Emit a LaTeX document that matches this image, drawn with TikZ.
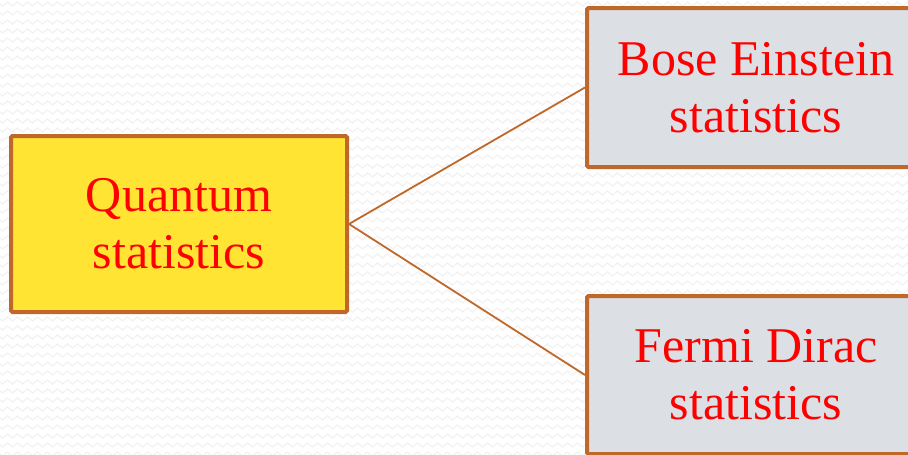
\documentclass[tikz,border=0pt]{standalone}
\usepackage{fontspec}
\setmainfont{Liberation Serif}
\usetikzlibrary{decorations.pathmorphing}
\definecolor{brd}{RGB}{192,103,42}
\definecolor{yel}{RGB}{255,228,51}
\definecolor{gry}{RGB}{220,223,228}
\definecolor{bgz}{RGB}{242,242,242}
\begin{document}
\begin{tikzpicture}[x=1pt,y=1pt,
  boxst/.style={draw=brd, line width=4pt, rounded corners=1.5pt, inner sep=0pt,
    align=center, text=red, font=\fontsize{50}{57}\selectfont},
  conn/.style={draw=brd, line width=1.8pt},
  bgzz/.style={draw=bgz, line width=1.2pt, decorate, decoration={zigzag, segment length=10pt, amplitude=2pt}}]
\useasboundingbox (0,0) rectangle (908,-455);
\fill[white] (0,0) rectangle (908,-455);
\begin{scope}
\clip (0,0) rectangle (908,-455);
\foreach \yy in {4,13,...,460} \draw[bgzz] (-5,-\yy) -- (915,-\yy);
\node[boxst, fill=yel, minimum width=336pt, minimum height=176pt] (q) at (179,-224) {Quantum\\statistics};
\node[boxst, fill=gry, minimum width=338pt, minimum height=159pt] (b) at (756,-87.5) {Bose Einstein\\statistics};
\node[boxst, fill=gry, minimum width=338pt, minimum height=158pt] (f) at (756,-375) {Fermi Dirac\\statistics};
\draw[conn] (q.east) -- (b.west);
\draw[conn] (q.east) -- (f.west);
\end{scope}
\end{tikzpicture}
\end{document}
